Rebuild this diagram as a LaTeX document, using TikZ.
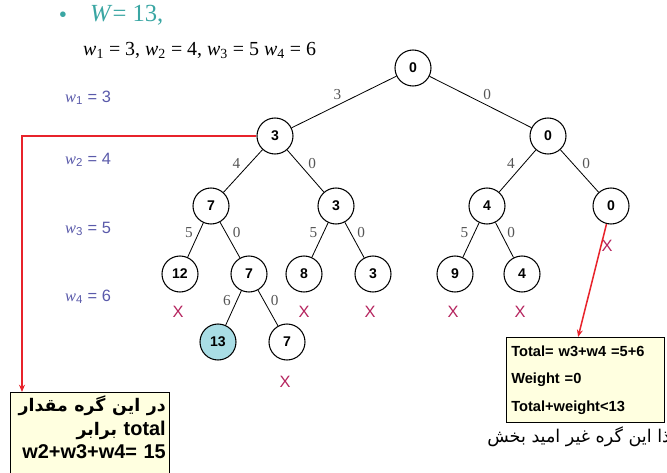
\documentclass[tikz,border=0pt]{standalone}
\usepackage{fontspec}
\setmainfont{Liberation Serif}
\setsansfont{Liberation Sans}
\newfontfamily\farsi[Script=Arabic]{DejaVu Sans}
\usetikzlibrary{arrows.meta, positioning, calc}
\TeXXeTstate=1

\definecolor{tealtxt}{HTML}{3AA6A3}
\definecolor{wlabel}{HTML}{5A5AAA}
\definecolor{redline}{HTML}{E8232B}
\definecolor{crossred}{HTML}{B5245E}
\definecolor{goalfill}{HTML}{A9DDE5}
\definecolor{notefill}{HTML}{FFFFE0}
\definecolor{edgelbl}{HTML}{555555}

\begin{document}
\begin{tikzpicture}[
  x=0.03cm, y=-0.03cm,
  state/.style={circle, draw, line width=0.9pt, minimum size=1.08cm, inner sep=0pt, font=\sffamily\bfseries\fontsize{12}{14}\selectfont},
  goal/.style={state, fill=goalfill},
  wt/.style={font=\rmfamily\fontsize{13}{15}\selectfont, text=edgelbl, inner sep=2pt},
  cross/.style={font=\sffamily\fontsize{14}{16}\selectfont, text=crossred, inner sep=0pt},
  level/.style={font=\sffamily\fontsize{14}{16}\selectfont, text=wlabel, anchor=west, inner sep=0pt},
  note/.style={draw, line width=1pt, fill=notefill, font=\sffamily\bfseries, anchor=north west},
  edge/.style={line width=0.7pt},
  redarr/.style={draw=redline, line width=1.3pt, -{Stealth[length=2.2mm, width=1.8mm]}},
]
  \clip (0,0) rectangle (667,472);

  % Header
  \node[text=tealtxt, font=\fontsize{20}{24}\selectfont] (bullet) at (63,17) {\textbullet};
  \node[text=tealtxt, font=\rmfamily\fontsize{21}{24}\selectfont, anchor=west, inner sep=0pt] (cap) at (90,15) {\textit{W}= 13,};
  \node[font=\rmfamily\fontsize{17}{20}\selectfont, anchor=west, inner sep=0pt] (weights) at (83,50)
    {\textit{w}\textsubscript{1} = 3, \textit{w}\textsubscript{2} = 4, \textit{w}\textsubscript{3} = 5 \textit{w}\textsubscript{4} = 6};

  % Levels
  \node[level] (lv1) at (65,98) {{\rmfamily\itshape w}\textsubscript{1} = 3};
  \node[level] (lv2) at (65,160) {{\rmfamily\itshape w}\textsubscript{2} = 4};
  \node[level] (lv3) at (65,229) {{\rmfamily\itshape w}\textsubscript{3} = 5};
  \node[level] (lv4) at (65,297) {{\rmfamily\itshape w}\textsubscript{4} = 6};

  % Tree
  \node[state] (root) at (413,68) {0};
  \node[state] (a) at (275,136) {3};
  \node[state] (b) at (548,136) {0};
  \node[state] (aa) at (211,206) {7};
  \node[state] (ab) at (336,206) {3};
  \node[state] (ba) at (487,206) {4};
  \node[state] (bb) at (611,206) {0};
  \node[state] (aaa) at (180,274) {12};
  \node[state] (aab) at (249,274) {7};
  \node[state] (aba) at (304,274) {8};
  \node[state] (abb) at (373,274) {3};
  \node[state] (baa) at (455,274) {9};
  \node[state] (bab) at (522,274) {4};
  \node[goal] (aaba) at (218,342) {13};
  \node[state] (aabb) at (287,342) {7};

  % Edges
  \draw[edge] (root) -- node[wt, above left] {3} (a);
  \draw[edge] (root) -- node[wt, above right] {0} (b);
  \draw[edge] (a) -- node[wt, above left] {4} (aa);
  \draw[edge] (a) -- node[wt, above right] {0} (ab);
  \draw[edge] (b) -- node[wt, above left] {4} (ba);
  \draw[edge] (b) -- node[wt, above right] {0} (bb);
  \draw[edge] (aa) -- node[wt, above left] {5} (aaa);
  \draw[edge] (aa) -- node[wt, above right] {0} (aab);
  \draw[edge] (ab) -- node[wt, above left] {5} (aba);
  \draw[edge] (ab) -- node[wt, above right] {0} (abb);
  \draw[edge] (ba) -- node[wt, above left] {5} (baa);
  \draw[edge] (ba) -- node[wt, above right] {0} (bab);
  \draw[edge] (aab) -- node[wt, above left] {6} (aaba);
  \draw[edge] (aab) -- node[wt, above right] {0} (aabb);

  % Pruned nodes
  \foreach \nm/\px/\py in {1/178/312, 2/304/312, 3/370/312, 4/453/312, 5/520/312, 6/285/382, 7/607/246}
    \node[cross] (x\nm) at (\px,\py) {X};

  % Notes
  \node[note, inner sep=3pt, text width=4.55cm, align=right, text depth=2cm, font=\sffamily\bfseries\fontsize{17}{20}\selectfont] (lnote) at (10,392)
    {{\farsi\fontsize{14.8}{20}\selectfont\beginR در این گره مقدار\endR}\\{\farsi\fontsize{14.8}{20}\selectfont\beginR برابر\endR} total\\w2+w3+w4= 15};
  \node[note, inner sep=4pt, text width=4.45cm, minimum height=2.55cm, align=left, font=\sffamily\bfseries\fontsize{12.5}{23.4}\selectfont] (rnote) at (506,337)
    {Total= w3+w4 =5+6\\Weight =0\\Total+weight<13};
  \node[font=\farsi\fontsize{15}{17}\selectfont, anchor=east, inner sep=0pt] (verdict) at (677,437)
    {\beginR لذا این گره غیر امید بخش\endR};

  % Red pointers
  \draw[redarr] (a.west) -| ([xshift=0.36cm]lnote.north west);
  \draw[redarr] (bb) -- ([xshift=-0.22cm]rnote.north);
\end{tikzpicture}
\end{document}
